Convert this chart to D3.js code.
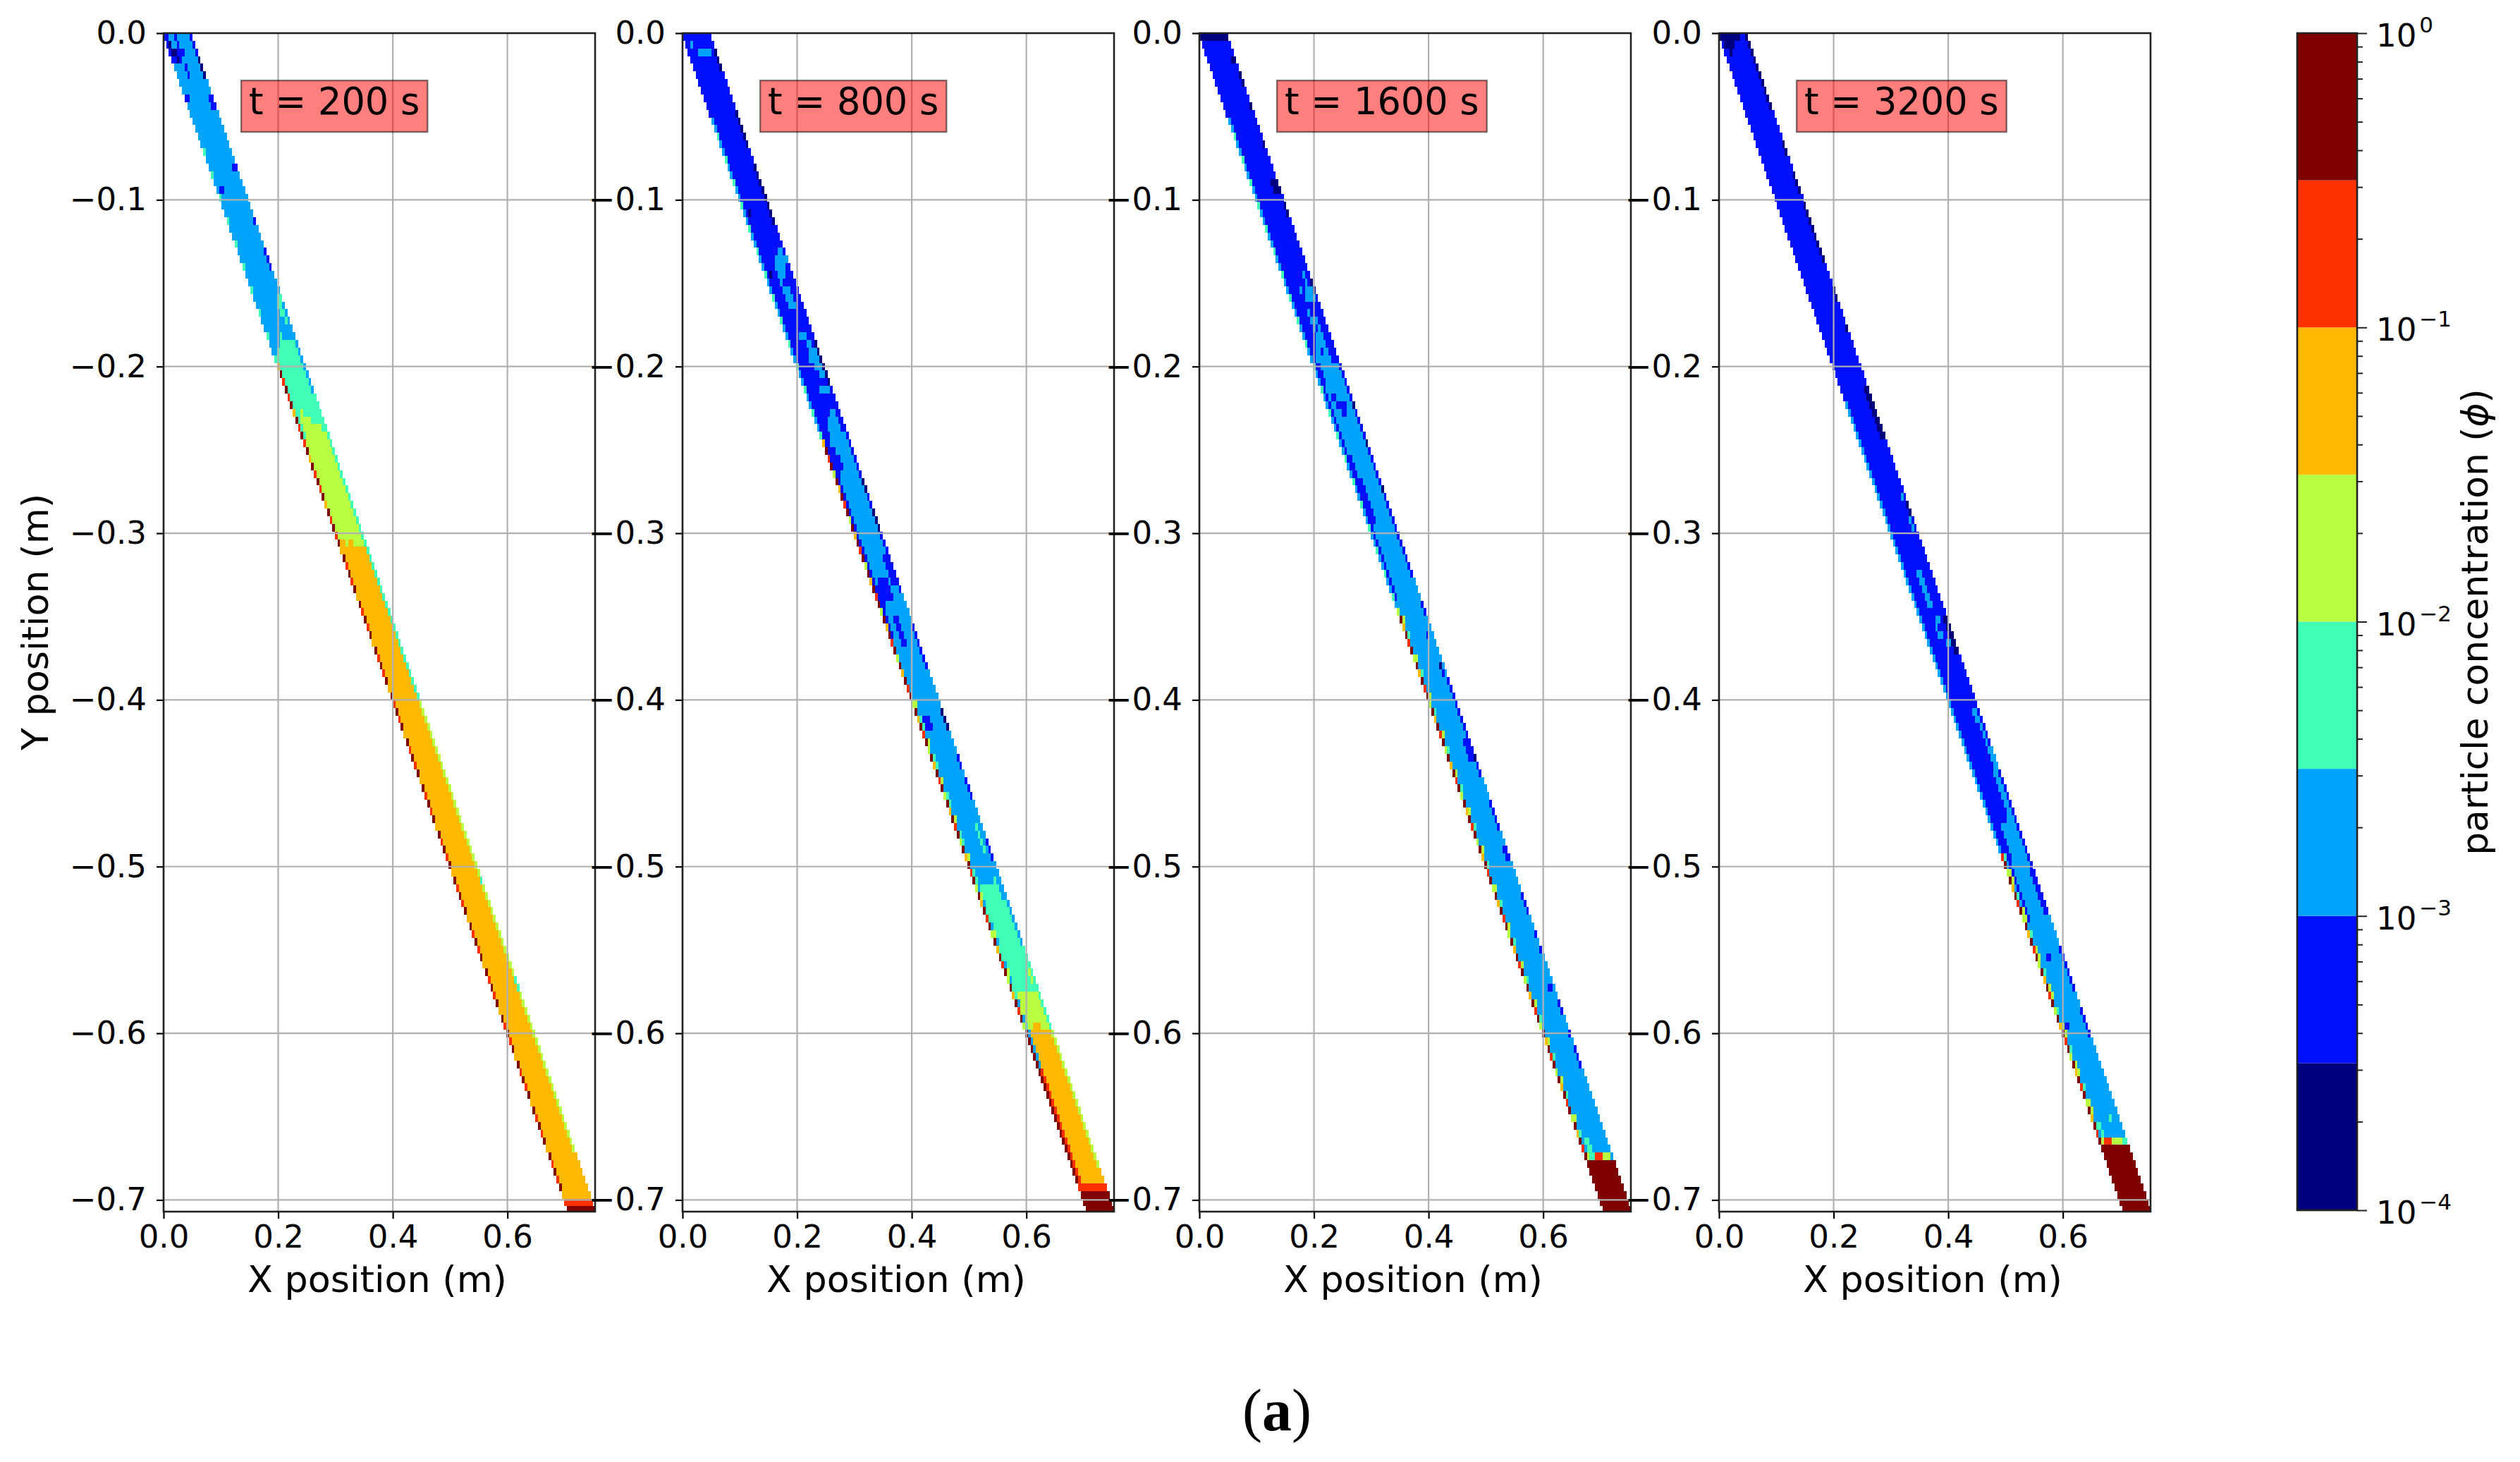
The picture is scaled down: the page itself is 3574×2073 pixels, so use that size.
<!DOCTYPE html>
<html>
<head>
<meta charset="utf-8">
<script src="https://cdn.jsdelivr.net/npm/d3@7"></script>
<style>
  html, body { margin: 0; background: #fff; }
  svg text { font-family: "DejaVu Sans", sans-serif; fill: #000; }
</style>
</head>
<body>
<div id="chart"></div>
<script>
const times = [200, 800, 1600, 3200]
const panelLefts = [232, 968, 1701, 2438]
const xTicks = [0, 0.2, 0.4, 0.6]
const yTicks = [0, -0.1, -0.2, -0.3, -0.4, -0.5, -0.6, -0.7]

// jet in eight steps, low to high
const levelColors = ["#00007f", "#0010ff", "#00a4ff", "#40ffb7", "#b7ff40", "#ffb900", "#ff3000", "#7f0000"]
const levelBounds = [1e-4, 3.162e-4, 1e-3, 3.162e-3, 1e-2, 3.162e-2, 1e-1, 3.162e-1, 1]
const cbarMajor = [1e-4, 1e-3, 1e-2, 1e-1, 1]
const cbarExponents = ["−4", "−3", "−2", "−1", "0"]
const cbarMinorSteps = [2, 3, 4, 5, 6, 7, 8, 9]

// regions are [level, point, point, ...] in (depth, across) where depth is -y
// and across runs 0..1 over the channel. Two points mean a box. Later ones win.
const regions200 = [
  [2, [0, 0], [0.2, 1.01]],
  [3, [0.2, 0], [0.32, 1.01]],
  [1, [0, 0], [0, 0.4], [0.012, 0.5], [0.018, 0.25], [0.018, 0]],
  [0, [0.005, 0], [0.016, 0.1], [0.02, 0.22], [0.014, 0.3], [0.005, 0.1]],
  [2, [0.002, 0.18], [0.008, 0.34]],
  [1, [0, 0.85], [0.028, 1.01]],
  [0, [0.016, 0.9], [0.028, 1.01]],
  [1, [0.019, 0.36], [0.026, 0.46]],
  [1, [0.035, 0.82], [0.044, 1.01]],
  [1, [0.036, 0], [0.04, 0.1]],
  [1, [0.079, 0.82], [0.085, 1.01]],
  [1, [0.094, 0], [0.098, 0.2]],
  [1, [0.11, 0.85], [0.116, 1.01]],
  [1, [0.127, 0.88], [0.143, 1.01]],
  [3, [0.155, 0.88], [0.155, 1.01], [0.2, 1.01], [0.2, 0], [0.19, 0.2], [0.17, 0.62]],
  [2, [0.168, 0.68], [0.186, 0.42], [0.186, 0.8], [0.176, 0.88]],
  [2, [0.16, 0.88], [0.215, 1.01]],
  [4, [0.225, 0.22], [0.24, 0.88], [0.32, 0.88], [0.32, 0.1], [0.255, 0]],
  [5, [0.302, 0.18], [0.308, 0.3], [0.303, 0.45], [0.309, 0.6], [0.306, 0.75], [0.312, 0.88], [0.72, 0.88], [0.72, 0], [0.31, 0]],
  [3, [0.215, 0.88], [0.4, 1.01]],
  [4, [0.4, 0.88], [0.72, 1.01]],
  [3, [0.505, 0.88], [0.51, 1.01]],
  [3, [0.568, 0.88], [0.573, 1.01]],
  [5, [0.672, 0.8], [0.72, 1.01]],
  [6, [0.698, 0], [0.72, 1.01]],
  [7, [0.7025, 0], [0.72, 1.01]]
]
const edges200 = [
  [0.06, 0.2, 0, [3, 2, 2]],
  [0.2, 0.7, 0, [7, 5, 7, 6, 7, 6]]
]

const regions800 = [
  [1, [0, 0], [0.345, 1.01]],
  [2, [0.006, 0.1], [0.01, 0.1], [0.015, 0.75], [0.011, 0.75]],
  [0, [0.01, 0.85], [0.023, 1.01]],
  [0, [0.048, 0.85], [0.067, 1.01]],
  [0, [0.08, 0.85], [0.115, 1.01]],
  [0, [0.107, 0.1], [0.112, 0.25]],
  [0, [0.143, 0.1], [0.147, 0.25]],
  [2, [0.127, 0.78], [0.135, 0.95], [0.148, 0.65], [0.15, 0.42], [0.14, 0.4]],
  [2, [0.153, 0.4], [0.166, 0.7]],
  [2, [0.181, 0.4], [0.181, 0.65], [0.2, 1.01], [0.205, 0.95], [0.205, 0.7], [0.19, 0.38]],
  [1, [0.186, 0.45], [0.194, 0.62]],
  [0, [0.185, 0.88], [0.213, 1.01]],
  [2, [0.212, 0.5], [0.218, 0.85]],
  [2, [0.225, 0.75], [0.25, 0.88], [0.33, 0.88], [0.346, 1.01], [0.346, 0.2], [0.27, 0.12], [0.258, 0.45], [0.245, 0.25], [0.24, 0.3], [0.23, 0.5]],
  [0, [0.266, 0.85], [0.274, 1.01]],
  [0, [0.285, 0.85], [0.3, 1.01]],
  [1, [0.315, 0.7], [0.33, 0.92]],
  [2, [0.345, 0], [0.51, 1.01]],
  [1, [0.328, 0.2], [0.342, 0.6]],
  [1, [0.35, 0.35], [0.369, 0.55]],
  [1, [0.345, 0], [0.365, 0.12]],
  [1, [0.352, 0.85], [0.38, 1.01]],
  [0, [0.404, 0.85], [0.418, 1.01]],
  [1, [0.41, 0], [0.42, 0.4]],
  [1, [0.431, 0.85], [0.44, 1.01]],
  [1, [0.446, 0.85], [0.46, 1.01]],
  [1, [0.482, 0.85], [0.496, 1.01]],
  [3, [0.476, 0.72], [0.49, 0.8]],
  [2, [0.5, 0], [0.52, 1.01]],
  [3, [0.51, 0.1], [0.508, 0.75], [0.53, 0.88], [0.58, 0.88], [0.58, 0], [0.515, 0]],
  [2, [0.505, 0.85], [0.547, 1.01]],
  [3, [0.547, 0.85], [0.6, 1.01]],
  [4, [0.56, 0.78], [0.57, 0.9]],
  [4, [0.575, 0.1], [0.575, 0.88], [0.6, 0.88], [0.6, 0]],
  [5, [0.6, 0.18], [0.594, 0.35], [0.596, 0.65], [0.6, 0.88], [0.72, 0.88], [0.72, 0.18]],
  [4, [0.6, 0.88], [0.69, 1.01]],
  [5, [0.682, 0.8], [0.72, 1.01]],
  [7, [0.6, 0], [0.72, 0.08]],
  [6, [0.62, 0.08], [0.72, 0.18]],
  [6, [0.691, 0], [0.72, 1.01]],
  [7, [0.694, 0], [0.72, 1.01]]
]
const edges800 = [
  [0.05, 0.245, 0, [2, 3, 2]],
  [0.245, 0.6, 0, [7, 6, 7, 4, 7, 5]],
  [0.4, 0.6, 1, [3, 2, 4, 2, 3]]
]

const regions1600 = [
  [1, [0, 0], [0.2, 1.01]],
  [2, [0.2, 0], [0.72, 1.01]],
  [0, [0, 0], [0, 0.95], [0.005, 0.9], [0.006, 0.1], [0.006, 0]],
  [0, [0.012, 0.78], [0.017, 1.01]],
  [0, [0.021, 0.85], [0.032, 1.01]],
  [0, [0.042, 0.85], [0.047, 1.01]],
  [0, [0.064, 0.85], [0.07, 1.01]],
  [0, [0.088, 0.72], [0.095, 1.01]],
  [0, [0.1, 0.85], [0.11, 1.01]],
  [2, [0.138, 0.7], [0.148, 0.82], [0.16, 0.85], [0.163, 0.7], [0.155, 0.42], [0.152, 0.42], [0.158, 0.6], [0.15, 0.66]],
  [0, [0.145, 0.85], [0.158, 1.01]],
  [2, [0.163, 0.4], [0.172, 0.66], [0.19, 0.72], [0.2, 0.85], [0.202, 0], [0.19, 0.2], [0.18, 0.42]],
  [1, [0.175, 0.5], [0.18, 0.62]],
  [1, [0.187, 0.42], [0.192, 0.55]],
  [1, [0.163, 0.72], [0.2, 1.01]],
  [1, [0.2, 0], [0.21, 0.25]],
  [1, [0.208, 0], [0.228, 0.15]],
  [1, [0.217, 0.18], [0.217, 0.36], [0.224, 0.7], [0.232, 0.5], [0.226, 0.38]],
  [1, [0.2, 0.88], [0.325, 1.01]],
  [0, [0.22, 0.85], [0.226, 1.01]],
  [0, [0.243, 0.85], [0.25, 1.01]],
  [0, [0.271, 0.85], [0.275, 1.01]],
  [1, [0.237, 0.4], [0.24, 0.6]],
  [1, [0.228, 0], [0.27, 0.1]],
  [1, [0.254, 0], [0.265, 0.25]],
  [1, [0.269, 0], [0.293, 0.3]],
  [1, [0.293, 0], [0.34, 0.1]],
  [1, [0.34, 0.85], [0.349, 1.01]],
  [1, [0.352, 0.72], [0.355, 0.8]],
  [1, [0.36, 0.72], [0.363, 0.8]],
  [1, [0.376, 0.75], [0.386, 0.9]],
  [0, [0.378, 0.75], [0.381, 0.85]],
  [1, [0.386, 0.85], [0.425, 1.01]],
  [1, [0.425, 0.72], [0.436, 1.01]],
  [0, [0.434, 0.85], [0.438, 1.01]],
  [1, [0.436, 0.85], [0.448, 1.01]],
  [1, [0.458, 0.85], [0.477, 1.01]],
  [1, [0.486, 0.75], [0.496, 1.01]],
  [1, [0.515, 0.85], [0.527, 1.01]],
  [1, [0.536, 0.85], [0.542, 1.01]],
  [1, [0.548, 0.85], [0.553, 1.01]],
  [1, [0.57, 0.7], [0.575, 0.9]],
  [1, [0.581, 0.85], [0.588, 1.01]],
  [1, [0.596, 0.85], [0.603, 1.01]],
  [1, [0.606, 0.85], [0.619, 1.01]],
  [3, [0.664, 0], [0.676, 0.28]],
  [6, [0.672, 0.28], [0.676, 0.6]],
  [4, [0.672, 0.6], [0.676, 0.9]],
  [7, [0.676, 0], [0.72, 1.01]]
]
const edges1600 = [
  [0.05, 0.345, 0, [2, 3, 2]],
  [0.345, 0.676, 0, [7, 6, 7, 4, 7, 5]],
  [0.345, 0.676, 1, [2, 4, 2, 3, 2]]
]

const regions3200 = [
  [1, [0, 0], [0.477, 1.01]],
  [2, [0.477, 0], [0.72, 1.01]],
  [0, [0, 0], [0, 0.8], [0.005, 0.55], [0.009, 0.32], [0.012, 0.2], [0.006, 0]],
  [0, [0, 0.85], [0.027, 1.01]],
  [0, [0.029, 0.85], [0.036, 1.01]],
  [0, [0.038, 0.85], [0.047, 1.01]],
  [0, [0.063, 0.85], [0.072, 1.01]],
  [0, [0.084, 0.85], [0.095, 1.01]],
  [0, [0.102, 0.85], [0.138, 1.01]],
  [0, [0.152, 0.85], [0.159, 1.01]],
  [0, [0.175, 0.85], [0.179, 1.01]],
  [0, [0.212, 0.82], [0.245, 1.01]],
  [0, [0.281, 0.85], [0.288, 1.01]],
  [2, [0.277, 0.75], [0.282, 0.85]],
  [2, [0.288, 0.8], [0.298, 0.9]],
  [2, [0.32, 0.42], [0.343, 0.58]],
  [2, [0.352, 0.32], [0.362, 0.45], [0.371, 0.78], [0.365, 0.85], [0.36, 0.58], [0.352, 0.44]],
  [2, [0.35, 0.55], [0.356, 0.7]],
  [0, [0.351, 0.8], [0.371, 1.01]],
  [2, [0.403, 0.68], [0.415, 0.9]],
  [2, [0.415, 0.8], [0.427, 0.92]],
  [2, [0.429, 0.8], [0.44, 1.01]],
  [2, [0.44, 0.7], [0.46, 0.72], [0.472, 0.6], [0.477, 0.24], [0.49, 0.4], [0.49, 0.85], [0.46, 0.9], [0.44, 0.88]],
  [1, [0.477, 0], [0.488, 0.3]],
  [1, [0.488, 0.05], [0.498, 0.36]],
  [1, [0.498, 0.05], [0.51, 0.22]],
  [1, [0.51, 0.05], [0.534, 0.2]],
  [1, [0.534, 0.05], [0.553, 0.12]],
  [1, [0.46, 0.88], [0.5, 1.01]],
  [1, [0.5, 0.8], [0.53, 1.01]],
  [1, [0.548, 0.85], [0.574, 1.01]],
  [1, [0.585, 0.85], [0.603, 1.01]],
  [1, [0.553, 0.36], [0.557, 0.55]],
  [1, [0.593, 0.08], [0.6, 0.3]],
  [3, [0.652, 0.08], [0.663, 0.2]],
  [3, [0.648, 0.6], [0.652, 0.7]],
  [6, [0.662, 0], [0.667, 0.4]],
  [4, [0.662, 0.4], [0.667, 0.75]],
  [3, [0.662, 0.75], [0.667, 1.01]],
  [7, [0.667, 0], [0.72, 1.01]]
]
const edges3200 = [
  [0.22, 0.49, 0, [2]],
  [0.49, 0.667, 0, [7, 4, 7, 5, 7, 6]],
  [0.49, 0.667, 1, [4, 2, 3, 2, 4]]
]

const panelRegions = [regions200, regions800, regions1600, regions3200]
const panelEdges = [edges200, edges800, edges1600, edges3200]

const channelWidth = 0.05
const cellSize = 0.0046

class ConcentrationPanel {
  constructor(svg, left, time, regions, edges, showYLabel) {
    this.g = svg.append("g")
    this.top = 47
    this.bottom = 1718
    this.left = left
    this.right = left + 612
    this.xScale = d3.scaleLinear().domain([0, 0.753]).range([this.left, this.right])
    this.yScale = d3.scaleLinear().domain([-0.707, 0]).range([this.bottom, this.top])

    this.drawCells(regions, edges)
    this.drawGrid()
    this.drawNote(time)
    this.drawAxes(showYLabel)
  }

  levelAt(depth, across, row, regions, edges) {
    const col = Math.round(across / (cellSize / channelWidth))
    for (const [d0, d1, edgeCol, pattern] of edges) {
      if (col == edgeCol && depth >= d0 && depth < d1) return pattern[row % pattern.length]
    }
    const p = [depth, across + 0.001]
    for (let i = regions.length - 1; i >= 0; i--) {
      const [level, ...pts] = regions[i]
      if (pts.length == 2) {
        if (p[0] >= pts[0][0] && p[0] < pts[1][0] && p[1] >= pts[0][1] && p[1] < pts[1][1]) return level
      } else if (d3.polygonContains(pts, p)) {
        return level
      }
    }
    return 2
  }

  // runs of equal cells along each row, so the staircase edge stays visible
  cellRuns(regions, edges) {
    const runs = []
    const rows = Math.ceil(0.707 / cellSize)
    const colsAcross = Math.ceil(channelWidth / cellSize)
    for (let row = 0; row < rows; row++) {
      const depth = (row + 0.5) * cellSize
      let current = null
      for (let n = 0; n < colsAcross; n++) {
        const col = row + n
        if (col * cellSize >= 0.753) break
        const across = (n * cellSize) / channelWidth
        const level = this.levelAt(depth, across, row, regions, edges)
        if (current && current.level == level) {
          current.x1 = (col + 1) * cellSize
        } else {
          current = { row, level, x0: col * cellSize, x1: (col + 1) * cellSize }
          runs.push(current)
        }
      }
    }
    return runs
  }

  drawCells(regions, edges) {
    const clipId = `clip-${this.left}`
    this.g
      .append("clipPath")
      .attr("id", clipId)
      .append("rect")
      .attr("x", this.left)
      .attr("y", this.top)
      .attr("width", this.right - this.left)
      .attr("height", this.bottom - this.top)

    this.g
      .append("g")
      .attr("clip-path", `url(#${clipId})`)
      .selectAll("rect")
      .data(this.cellRuns(regions, edges))
      .join("rect")
      .attr("x", (d) => this.xScale(d.x0))
      .attr("y", (d) => this.yScale(-d.row * cellSize))
      .attr("width", (d) => this.xScale(d.x1) - this.xScale(d.x0))
      .attr("height", (d) => this.yScale(-(d.row + 1) * cellSize) - this.yScale(-d.row * cellSize))
      .attr("fill", (d) => levelColors[d.level])
      .attr("shape-rendering", "crispEdges")
  }

  drawGrid() {
    const grid = this.g.append("g").attr("stroke", "#b0b0b0").attr("stroke-width", 2.2)
    grid
      .selectAll(".vgrid")
      .data(xTicks)
      .join("line")
      .attr("class", "vgrid")
      .attr("x1", (d) => this.xScale(d))
      .attr("x2", (d) => this.xScale(d))
      .attr("y1", this.top)
      .attr("y2", this.bottom)
    grid
      .selectAll(".hgrid")
      .data(yTicks)
      .join("line")
      .attr("class", "hgrid")
      .attr("x1", this.left)
      .attr("x2", this.right)
      .attr("y1", (d) => this.yScale(d))
      .attr("y2", (d) => this.yScale(d))
  }

  drawNote(time) {
    const note = this.g.append("g")
    const rect = note.append("rect")
    const text = note
      .append("text")
      .attr("x", this.xScale(0.149))
      .attr("y", this.yScale(-0.0487))
      .attr("font-size", 52.5)
      .text(`t = ${time} s`)
    const len = text.node().getComputedTextLength()
    rect
      .attr("x", this.xScale(0.149) - 11)
      .attr("y", this.yScale(-0.0487) - 48)
      .attr("width", len + 22)
      .attr("height", 73)
      .attr("fill", "rgba(255,0,0,0.5)")
      .attr("stroke", "rgba(0,0,0,0.5)")
      .attr("stroke-width", 2.4)
  }

  drawAxes(showYLabel) {
    const xAxis = this.g
      .append("g")
      .attr("transform", `translate(0,${this.bottom})`)
      .call(d3.axisBottom(this.xScale).tickValues(xTicks).tickFormat(d3.format(".1f")).tickSize(10).tickPadding(9))
    const yAxis = this.g
      .append("g")
      .attr("transform", `translate(${this.left},0)`)
      .call(d3.axisLeft(this.yScale).tickValues(yTicks).tickFormat((d) => d3.format(".1f")(d == 0 ? 0 : d)).tickSize(10).tickPadding(14))

    for (const axis of [xAxis, yAxis]) {
      axis.select(".domain").remove()
      axis.selectAll("line").attr("stroke", "#000").attr("stroke-width", 2.2)
      axis.selectAll("text").attr("font-size", 45).attr("font-family", "DejaVu Sans")
    }

    this.g
      .append("rect")
      .attr("x", this.left)
      .attr("y", this.top)
      .attr("width", this.right - this.left)
      .attr("height", this.bottom - this.top)
      .attr("fill", "none")
      .attr("stroke", "#222")
      .attr("stroke-width", 2.6)

    this.g
      .append("text")
      .attr("x", (this.left + this.right) / 2 - 3)
      .attr("y", 1832)
      .attr("text-anchor", "middle")
      .attr("font-size", 52.3)
      .text("X position (m)")

    if (showYLabel) {
      this.g
        .append("text")
        .attr("transform", "translate(68,882) rotate(-90)")
        .attr("text-anchor", "middle")
        .attr("font-size", 52.3)
        .text("Y position (m)")
    }
  }
}

function drawColorbar(svg) {
  const left = 3258
  const right = 3343
  const scale = d3.scaleLog().domain([1e-4, 1]).range([1716, 47])
  const g = svg.append("g")

  g.selectAll(".band")
    .data(levelColors)
    .join("rect")
    .attr("class", "band")
    .attr("x", left)
    .attr("width", right - left)
    .attr("y", (d, i) => scale(levelBounds[i + 1]))
    .attr("height", (d, i) => scale(levelBounds[i]) - scale(levelBounds[i + 1]))
    .attr("fill", (d) => d)

  const minor = cbarMajor.slice(0, -1).flatMap((m) => cbarMinorSteps.map((s) => m * s))
  const minorAxis = g
    .append("g")
    .attr("transform", `translate(${right},0)`)
    .call(d3.axisRight(scale).tickValues(minor).tickFormat("").tickSize(8))
  const majorAxis = g
    .append("g")
    .attr("transform", `translate(${right},0)`)
    .call(d3.axisRight(scale).tickValues(cbarMajor).tickFormat("").tickSize(14))
  for (const axis of [minorAxis, majorAxis]) {
    axis.select(".domain").remove()
    axis.selectAll("line").attr("stroke", "#222").attr("stroke-width", 2)
  }

  g.append("rect")
    .attr("x", left)
    .attr("y", 47)
    .attr("width", right - left)
    .attr("height", 1716 - 47)
    .attr("fill", "none")
    .attr("stroke", "#222")
    .attr("stroke-width", 2.6)

  const labels = g
    .selectAll(".cbar-label")
    .data(cbarMajor)
    .join("text")
    .attr("class", "cbar-label")
    .attr("x", right + 27)
    .attr("y", (d) => scale(d) + 19)
    .attr("font-size", 45)
  labels.append("tspan").text("10")
  labels
    .append("tspan")
    .attr("dx", 4)
    .attr("dy", -20)
    .attr("font-size", 31)
    .text((d, i) => cbarExponents[i])

  const label = g
    .append("text")
    .attr("transform", "translate(3528,882) rotate(-90)")
    .attr("text-anchor", "middle")
    .attr("font-size", 51.8)
  label.append("tspan").text("particle concentration (")
  label.append("tspan").attr("font-style", "italic").text("ϕ")
  label.append("tspan").text(")")
}

const svg = d3
  .select("#chart")
  .append("svg")
  .attr("width", 3574)
  .attr("height", 2073)
  .style("display", "block")

times.forEach((t, i) => {
  new ConcentrationPanel(svg, panelLefts[i], t, panelRegions[i], panelEdges[i], i == 0)
})

drawColorbar(svg)

const caption = svg
  .append("text")
  .attr("x", 1811)
  .attr("y", 2028)
  .attr("text-anchor", "middle")
  .attr("font-size", 84)
  .style("font-family", '"Liberation Serif", serif')
caption.append("tspan").text("(")
caption.append("tspan").attr("font-weight", "bold").text("a")
caption.append("tspan").text(")")
</script>
</body>
</html>
